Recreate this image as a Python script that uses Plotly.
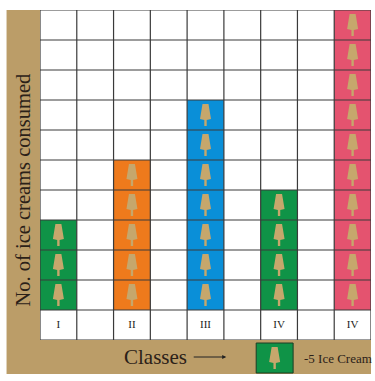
import plotly.graph_objects as go

class_labels = ["I", "II", "III", "IV", "IV"]
positions = [0, 2, 4, 6, 8]
ice_creams = [15, 25, 35, 20, 50]
bar_colors = ["#0f9347", "#ee7a1c", "#0a8fd8", "#0f9347", "#e4536f"]
unit = 5
TAN = "#bb9d68"
ICON = "#c6a76c"
GRID = "#3a3a3a"

W, H = 375, 381
L, R, T, B = 39.5, 371, 10, 340

def icon_path():
    return ("M -3 11 L 3 11 L 5.5 -4 L 1.2 -5 L 1.2 -11 L -1.2 -11 "
            "L -1.2 -5 L -5.5 -4 Z")

fig = go.Figure()
fig.add_trace(go.Bar(x=positions, y=ice_creams, width=1,
                     marker=dict(color=bar_colors, line=dict(width=0)),
                     hoverinfo="skip"))
fig.add_trace(go.Scatter(x=positions, y=[-2.5]*len(positions), text=class_labels,
                         mode="text", textposition="middle center",
                         textfont=dict(family="Liberation Serif", size=11, color="#222"),
                         hoverinfo="skip"))

shapes = [dict(type="rect", xref="paper", yref="paper", layer="below",
               x0=-(L-6)/(R-L), x1=1, y0=-(374-B)/(B-T), y1=1,
               fillcolor=TAN, line_width=0),
          dict(type="rect", xref="paper", yref="paper", layer="below",
               x0=0, x1=1, y0=0, y1=1, fillcolor="white", line_width=0)]

for v in range(-5, 55, unit):
    shapes.append(dict(type="line", xref="paper", yref="y", x0=0, x1=1, y0=v, y1=v,
                       layer="above", line=dict(color=GRID, width=1.2)))
for i in range(0, 10):
    shapes.append(dict(type="line", xref="x", yref="paper", x0=i-0.5, x1=i-0.5, y0=0, y1=1,
                       layer="above", line=dict(color=GRID, width=1.2)))
for p, v in zip(positions, ice_creams):
    for k in range(0, v, unit):
        shapes.append(dict(type="path", xsizemode="pixel", ysizemode="pixel",
                           xanchor=p, yanchor=k + unit/2, xref="x", yref="y",
                           path=icon_path(), fillcolor=ICON, line_width=0, layer="above"))

# legend swatch
shapes.append(dict(type="rect", xref="paper", yref="paper",
                   x0=(256-L)/(R-L), x1=(293-L)/(R-L),
                   y0=-(373-B)/(B-T), y1=-(343-B)/(B-T),
                   fillcolor=bar_colors[0], line=dict(color="#1c3d25", width=1), layer="above"))
shapes.append(dict(type="path", xsizemode="pixel", ysizemode="pixel",
                   xanchor=(274.5-L)/(R-L), yanchor=-(358-B)/(B-T), xref="paper", yref="paper",
                   path=icon_path(), fillcolor=ICON, line_width=0, layer="above"))

annotations = [
    dict(text="No. of ice creams consumed", xref="paper", yref="paper",
         x=-(L-22)/(R-L), y=(B-190)/(B-T), textangle=-90, showarrow=False,
         xanchor="center", yanchor="middle",
         font=dict(family="Liberation Serif", size=20.5, color="#2b2118")),
    dict(text="Classes", xref="paper", yref="paper",
         x=(155.5-L)/(R-L), y=-(357-B)/(B-T), showarrow=False,
         xanchor="center", yanchor="middle",
         font=dict(family="Liberation Serif", size=21, color="#2b2118")),
    dict(text="-5 Ice Cream", xref="paper", yref="paper",
         x=(337.5-L)/(R-L), y=-(358.5-B)/(B-T), showarrow=False,
         xanchor="center", yanchor="middle",
         font=dict(family="Liberation Serif", size=13, color="#2b2118")),
    dict(text="", xref="paper", yref="paper", axref="pixel", ayref="pixel",
         x=(226-L)/(R-L), y=-(357-B)/(B-T), ax=-34, ay=0,
         showarrow=True, arrowhead=2, arrowsize=0.8, arrowwidth=1, arrowcolor="#222"),
]

fig.update_layout(
    width=W, height=H, autosize=False, showlegend=False,
    margin=dict(l=L, r=W-R, t=T, b=H-B),
    paper_bgcolor="white", plot_bgcolor="rgba(0,0,0,0)",
    xaxis=dict(range=[-0.5, 8.5], showgrid=False, zeroline=False, showticklabels=False, ticks="", fixedrange=True),
    yaxis=dict(range=[-5, 50], showgrid=False, zeroline=False, showticklabels=False, ticks="", fixedrange=True),
    shapes=shapes, annotations=annotations,
)
fig.write_html("out.html", config=dict(displayModeBar=False),
               post_script="document.body.style.margin='0';document.documentElement.style.overflow='hidden';")
